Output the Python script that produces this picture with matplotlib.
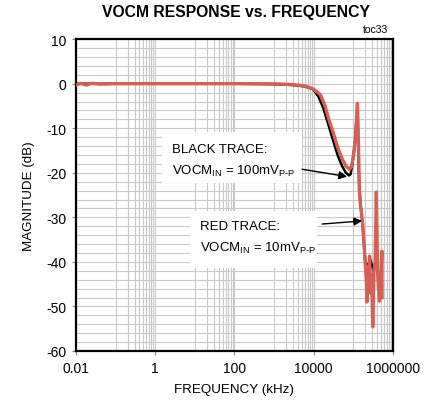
import numpy as np
import matplotlib.pyplot as plt
from matplotlib.patches import Rectangle
from matplotlib.ticker import FixedLocator, NullFormatter

plt.rcParams['font.family'] = ['Liberation Sans', 'DejaVu Sans']
plt.rcParams['mathtext.fontset'] = 'custom'
plt.rcParams['mathtext.rm'] = 'Liberation Sans'
plt.rcParams['mathtext.it'] = 'Liberation Sans'
plt.rcParams['axes.unicode_minus'] = False

# frequency (kHz) / magnitude (dB), VOCM_IN = 100mVp-p
f_black = [0.01, 0.1, 1, 10, 100, 1000, 3000, 6000, 9500, 13000, 17500, 24000,
           31000, 40000, 52000, 65000, 78000, 85000, 95000, 110000, 120000,
           126000, 132000, 140000, 150000, 170000, 200000, 230000,
           270000, 320000, 380000, 420000, 470000, 520000]
m_black = [0.0, 0.0, 0.0, 0.0, 0.0, -0.1, -0.3, -0.6, -1.2, -2.8, -5.5, -9.5,
           -12.8, -16.0, -18.5, -20.0, -20.6, -20.3, -18.0, -13.0, -8.0,
           -5.0, -13.0, -22.5, -26.5, -31.5, -40.0, -41.0,
           -39.5, -42.0, -40.5, -42.5, -44.0, -45.5]

# VOCM_IN = 10mVp-p
f_red = [0.01, 0.013, 0.018, 0.025, 0.04, 0.1, 1, 10, 100, 1000, 3000, 6000,
         9800, 14500, 19000, 24000, 31000, 40000, 52000, 65000, 80000, 90000,
         100000, 112000, 120000, 126700, 131000, 136000, 141000, 150000,
         173000, 200000, 212000, 219000, 232000, 245000, 257000, 272000,
         290000, 309000, 330000, 355000, 380000, 395000, 407000, 430000,
         457000, 490000, 525000, 530000]
m_red = [-0.3, 0.1, -0.3, 0.1, -0.1, 0.0, 0.0, 0.0, 0.0, 0.0, -0.2, -0.5,
         -1.2, -2.4, -4.8, -8.0, -11.0, -14.3, -16.8, -18.5, -19.2, -18.6,
         -16.2, -12.8, -8.5, -4.4, -9.0, -15.0, -23.7, -27.0,
         -31.5, -40.5, -44.0, -49.0, -41.0, -45.0, -38.7, -47.0,
         -43.0, -54.6, -42.0, -40.0, -24.3, -33.0, -42.0, -46.0,
         -48.8, -44.0, -37.6, -48.0]

x_ticks = [0.01, 1, 100, 10000, 1000000]
x_labels = ['0.01', '1', '100', '10000', '1000000']
y_ticks = list(range(-60, 11, 10))

fig = plt.figure(figsize=(4.3, 4.1), dpi=100)
ax = fig.add_axes([0.1767, 0.1415, 0.7372, 0.7605])

ax.set_xscale('log')
ax.set_xlim(0.01, 1e6)
ax.set_ylim(-60, 10)

# vertical grid: every decade, with 2..9 lines in alternate decades
minor_x = []
for d in [0.1, 10, 1000, 100000]:
    minor_x += [d * k for k in range(1, 10)]
minor_x += [10000 * 1.0]
ax.xaxis.set_major_locator(FixedLocator(x_ticks))
ax.set_xticklabels(x_labels)
ax.xaxis.set_minor_locator(FixedLocator(minor_x))
ax.xaxis.set_minor_formatter(NullFormatter())
ax.set_yticks(y_ticks)
ax.yaxis.set_minor_locator(FixedLocator(list(range(-60, 11, 2))))

ax.grid(True, which='both', color='#c8c8c8', linewidth=0.8)
ax.set_axisbelow(True)
ax.tick_params(which='minor', length=0)
ax.tick_params(which='major', length=3, width=0.8, color='#888888',
               labelsize=10, pad=4)

for s in ax.spines.values():
    s.set_linewidth(1.6)
    s.set_color('black')

ax.plot(f_black, m_black, color='black', linewidth=1.8, zorder=3)
ax.plot(f_red, m_red, color='#d65f56', linewidth=2.4, zorder=4)

# label boxes
ax.add_patch(Rectangle((0.271, 0.538), 0.442, 0.164, transform=ax.transAxes,
                       facecolor='white', edgecolor='none', zorder=2))
ax.add_patch(Rectangle((0.36, 0.266), 0.40, 0.183, transform=ax.transAxes,
                       facecolor='white', edgecolor='none', zorder=2))

ax.text(0.303, 0.647, 'BLACK TRACE:', transform=ax.transAxes, fontsize=9.5,
        va='center', zorder=5)
ax.text(0.303, 0.58, r'VOCM$_{\mathrm{IN}}$ = 100mV$_{\mathrm{P\text{-}P}}$',
        transform=ax.transAxes, fontsize=9.5, va='center', zorder=5)
ax.text(0.391, 0.40, 'RED TRACE:', transform=ax.transAxes, fontsize=9.5,
        va='center', zorder=5)
ax.text(0.391, 0.333, r'VOCM$_{\mathrm{IN}}$ = 10mV$_{\mathrm{P\text{-}P}}$',
        transform=ax.transAxes, fontsize=9.5, va='center', zorder=5)

arrow = dict(arrowstyle='-|>', color='black', lw=1.0, mutation_scale=12,
             shrinkA=0, shrinkB=0)
ax.annotate('', xy=(69700, -20.85), xytext=(5100, -19.2),
            arrowprops=arrow, zorder=5)
ax.annotate('', xy=(167000, -30.8), xytext=(16300, -31.5),
            arrowprops=arrow, zorder=5)

ax.set_xlabel('FREQUENCY (kHz)', fontsize=9.6, labelpad=6)
ax.set_ylabel('MAGNITUDE (dB)', fontsize=9.6, labelpad=8)
fig.text(0.549, 0.97, 'VOCM RESPONSE vs. FREQUENCY', fontsize=11.3,
         fontweight='bold', ha='center', va='center')
fig.text(0.902, 0.915, 'toc33', fontsize=7.5, ha='right', va='bottom')

fig.savefig('out.png', dpi=100)
